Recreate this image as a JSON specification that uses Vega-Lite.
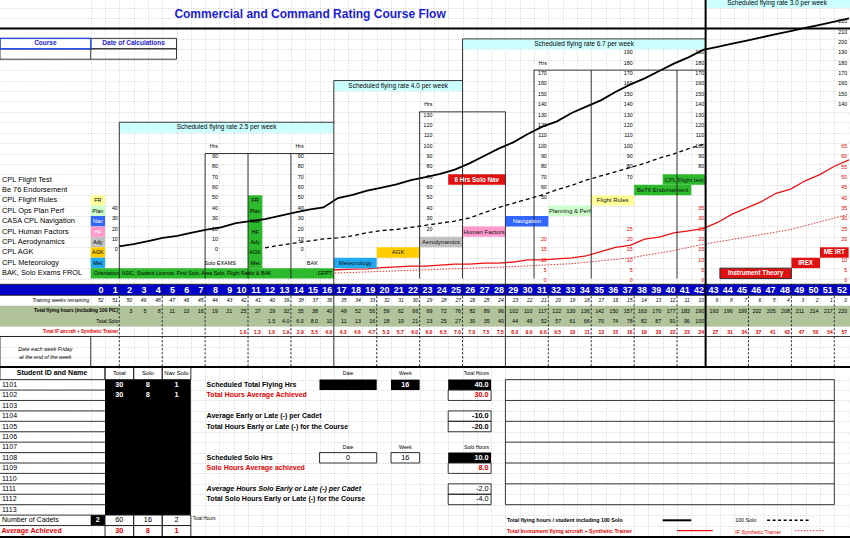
{
"$schema":"https://vega.github.io/schema/vega-lite/v6.json",
"width":850,"height":538,"padding":0,"autosize":"none","background":"white",
"config":{"view":{"stroke":null},"text":{"font":"Liberation Sans","baseline":"middle"}},
"datasets":{
"weeks":[
{"w":0,"rem":52},{"w":1,"rem":51},{"w":2,"rem":50,"fh":3},{"w":3,"rem":49,"fh":5},{"w":4,"rem":48,"fh":8},{"w":5,"rem":47,"fh":11},{"w":6,"rem":46,"fh":13},{"w":7,"rem":45,"fh":16},{"w":8,"rem":44,"fh":19},{"w":9,"rem":43,"fh":21},
{"w":10,"rem":42,"fh":25,"ifh":1.0,"it":"1.0"},{"w":11,"rem":41,"fh":27,"ifh":1.3,"it":"1.3"},
{"w":12,"rem":40,"fh":29,"solo":1.5,"st":"1.5","ifh":1.6,"it":"1.6"},{"w":13,"rem":39,"fh":32,"solo":4,"st":"4.0","ifh":1.9,"it":"1.9"},
{"w":14,"rem":38,"fh":35,"solo":6,"st":"6.0","ifh":2.9,"it":"2.9"},{"w":15,"rem":37,"fh":38,"solo":8,"st":"8.0","ifh":3.5,"it":"3.5"},
{"w":16,"rem":36,"fh":40,"solo":10,"st":"10","ifh":4.0,"it":"4.0"},{"w":17,"rem":35,"fh":49,"solo":11,"st":"11","ifh":4.3,"it":"4.3"},
{"w":18,"rem":34,"fh":52,"solo":13,"st":"13","ifh":4.6,"it":"4.6"},{"w":19,"rem":33,"fh":56,"solo":16,"st":"16","ifh":4.7,"it":"4.7"},
{"w":20,"rem":32,"fh":59,"solo":18,"st":"18","ifh":5.3,"it":"5.3"},{"w":21,"rem":31,"fh":62,"solo":19,"st":"19","ifh":5.7,"it":"5.7"},
{"w":22,"rem":30,"fh":66,"solo":21,"st":"21","ifh":6.0,"it":"6.0"},{"w":23,"rem":29,"fh":69,"solo":23,"st":"23","ifh":6.0,"it":"6.0"},
{"w":24,"rem":28,"fh":72,"solo":25,"st":"25","ifh":6.5,"it":"6.5"},{"w":25,"rem":27,"fh":76,"solo":27,"st":"27","ifh":7.0,"it":"7.0"},
{"w":26,"rem":26,"fh":82,"solo":30,"st":"30","ifh":7.0,"it":"7.0"},{"w":27,"rem":25,"fh":89,"solo":35,"st":"35","ifh":7.5,"it":"7.5"},
{"w":28,"rem":24,"fh":96,"solo":40,"st":"40","ifh":7.5,"it":"7.5"},{"w":29,"rem":23,"fh":102,"solo":44,"st":"44","ifh":8.0,"it":"8.0"},
{"w":30,"rem":22,"fh":110,"solo":48,"st":"48","ifh":9.0,"it":"9.0"},{"w":31,"rem":21,"fh":117,"solo":52,"st":"52","ifh":9.0,"it":"9.0"},
{"w":32,"rem":20,"fh":122,"solo":57,"st":"57","ifh":9.5,"it":"9.5"},{"w":33,"rem":19,"fh":130,"solo":61,"st":"61","ifh":10,"it":"10"},
{"w":34,"rem":18,"fh":136,"solo":66,"st":"66","ifh":11,"it":"11"},{"w":35,"rem":17,"fh":142,"solo":70,"st":"70","ifh":13,"it":"13"},
{"w":36,"rem":16,"fh":150,"solo":74,"st":"74","ifh":15,"it":"15"},{"w":37,"rem":15,"fh":157,"solo":78,"st":"78","ifh":16,"it":"16"},
{"w":38,"rem":14,"fh":163,"solo":82,"st":"82","ifh":19,"it":"19"},{"w":39,"rem":13,"fh":170,"solo":87,"st":"87","ifh":20,"it":"20"},
{"w":40,"rem":12,"fh":177,"solo":91,"st":"91","ifh":22,"it":"22"},{"w":41,"rem":11,"fh":183,"solo":96,"st":"96","ifh":23,"it":"23"},
{"w":42,"rem":10,"fh":190,"solo":100,"st":"100","ifh":24,"it":"24"},
{"w":43,"rem":9,"fh":193,"ifh":27,"it":"27"},{"w":44,"rem":8,"fh":196,"ifh":31,"it":"31"},{"w":45,"rem":7,"fh":199,"ifh":34,"it":"34"},
{"w":46,"rem":6,"fh":202,"ifh":37,"it":"37"},{"w":47,"rem":5,"fh":205,"ifh":41,"it":"41"},{"w":48,"rem":4,"fh":208,"ifh":43,"it":"43"},
{"w":49,"rem":3,"fh":211,"ifh":47,"it":"47"},{"w":50,"rem":2,"fh":214,"ifh":50,"it":"50"},{"w":51,"rem":1,"fh":217,"ifh":54,"it":"54"},
{"w":52,"rem":0,"fh":220,"ifh":57,"it":"57"}
],
"syn":[{"w":10,"v":0.5},{"w":13,"v":1.2},{"w":16,"v":2.5},{"w":20,"v":3.5},{"w":24,"v":4.5},{"w":29,"v":5.8},{"w":33,"v":7.2},{"w":37,"v":10},{"w":40,"v":13.5},{"w":42,"v":16.5},{"w":45,"v":20},{"w":48,"v":23.6},{"w":52,"v":31}]
},
"resolve":{"scale":{"x":"independent","y":"independent","color":"independent"}},
"layer":[
{"data":{"values":[{"c":0,"r":0}]},"mark":{"type":"point","opacity":0},
 "encoding":{
  "x":{"field":"c","type":"quantitative","scale":{"domain":[-6.843,52.598],"nice":false,"zero":false},"axis":{"values":[-0.5,0.5,1.5,2.5,3.5,4.5,5.5,6.5,7.5,8.5,9.5,10.5,11.5,12.5,13.5,14.5,15.5,16.5,17.5,18.5,19.5,20.5,21.5,22.5,23.5,24.5,25.5,26.5,27.5,28.5,29.5,30.5,31.5,32.5,33.5,34.5,35.5,36.5,37.5,38.5,39.5,40.5,41.5,42.5,43.5,44.5,45.5,46.5,47.5,48.5,49.5,50.5,51.5],"grid":true,"gridColor":"#c4c4c4","gridDash":[1,1.5],"gridWidth":0.7,"labels":false,"ticks":false,"domain":false,"title":null}},
  "y":{"field":"r","type":"quantitative","scale":{"domain":[-27.399,24.232],"nice":false,"zero":false},"axis":{"values":[-2.5,-1.5,-0.5,0.5,1.5,2.5,3.5,4.5,5.5,6.5,7.5,8.5,9.5,10.5,11.5,12.5,13.5,14.5,15.5,16.5,17.5,18.5,19.5,20.5,21.5,22.5,23.5,-4.1,-5.1,-6.1,-7.1,-8.06,-9.06,-10.03,-12.2,-13.2,-14.2,-15.2,-16.2,-17.2,-18.2,-19.2,-20.2,-21.2,-22.2,-23.2,-24.2,-25.2,-26.2],"grid":true,"gridColor":"#c4c4c4","gridDash":[1,1.5],"gridWidth":0.7,"labels":false,"ticks":false,"domain":false,"title":null}}}},
{"data":{"values":[
{"c1":1.5,"c2":16.5,"r1":11.5,"r2":12.5,"k":"cyan"},{"c1":16.5,"c2":25.5,"r1":15.5,"r2":16.5,"k":"cyan"},{"c1":25.5,"c2":42.5,"r1":19.5,"r2":20.5,"k":"cyan"},{"c1":42.5,"c2":52.598,"r1":23.5,"r2":24.232,"k":"cyan"},
{"c1":-6.843,"c2":52.598,"r1":-5.1,"r2":-7.1,"k":"band"},
{"c1":-0.5,"c2":0.5,"r1":4.5,"r2":5.5,"k":"yellow"},{"c1":-0.5,"c2":0.5,"r1":3.5,"r2":4.5,"k":"plan"},{"c1":-0.5,"c2":0.5,"r1":2.5,"r2":3.5,"k":"nav"},{"c1":-0.5,"c2":0.5,"r1":1.5,"r2":2.5,"k":"hf"},{"c1":-0.5,"c2":0.5,"r1":0.5,"r2":1.5,"k":"ady"},{"c1":-0.5,"c2":0.5,"r1":-0.5,"r2":0.5,"k":"agk"},{"c1":-0.5,"c2":0.5,"r1":-1.5,"r2":-0.5,"k":"met"},
{"c1":10.5,"c2":11.5,"r1":-1.5,"r2":5.5,"k":"green"},
{"c1":0.5,"c2":6.5,"r1":-12.2,"r2":-25.2,"k":"black"},{"c1":-0.5,"c2":0.5,"r1":-25.2,"r2":-26.2,"k":"black"},{"c1":15.5,"c2":19.5,"r1":-12.2,"r2":-13.2,"k":"black"},{"c1":20.5,"c2":22.5,"r1":-12.2,"r2":-13.2,"k":"black"},{"c1":24.5,"c2":27.5,"r1":-12.2,"r2":-13.2,"k":"black"},{"c1":24.5,"c2":27.5,"r1":-19.2,"r2":-20.2,"k":"black"}]},
 "mark":{"type":"rect"},
 "encoding":{"x":{"field":"c1","type":"quantitative","scale":{"domain":[-6.843,52.598],"nice":false,"zero":false},"axis":null},"x2":{"field":"c2"},"y":{"field":"r1","type":"quantitative","scale":{"domain":[-27.399,24.232],"nice":false,"zero":false},"axis":null},"y2":{"field":"r2"},
 "color":{"field":"k","type":"nominal","legend":null,"scale":{"domain":["cyan","band","yellow","plan","nav","hf","ady","agk","met","green","black","red"],"range":["#ccffff","#b0c39a","#ffff99","#ccffcc","#3366ff","#ff99cc","#c0c0c0","#ffcc00","#22aaee","#2db92d","#000000","#e01010"]}}}},
{"data":{"values":[{"w":1,"v":0},{"w":1,"v":10},{"w":1,"v":20},{"w":1,"v":30},{"w":1,"v":40},
{"w":8,"v":0},{"w":8,"v":10},{"w":8,"v":20},{"w":8,"v":30},{"w":8,"v":40},{"w":8,"v":50},{"w":8,"v":60},{"w":8,"v":70},{"w":8,"v":80},{"w":8,"v":90},
{"w":14,"v":0},{"w":14,"v":10},{"w":14,"v":20},{"w":14,"v":30},{"w":14,"v":40},{"w":14,"v":50},{"w":14,"v":60},{"w":14,"v":70},{"w":14,"v":80},{"w":14,"v":90},
{"w":23,"v":20},{"w":23,"v":30},{"w":23,"v":40},{"w":23,"v":50},{"w":23,"v":60},{"w":23,"v":70},{"w":23,"v":80},{"w":23,"v":90},{"w":23,"v":100},{"w":23,"v":110},{"w":23,"v":120},{"w":23,"v":130},
{"w":31,"v":50},{"w":31,"v":60},{"w":31,"v":70},{"w":31,"v":80},{"w":31,"v":90},{"w":31,"v":100},{"w":31,"v":110},{"w":31,"v":120},{"w":31,"v":130},{"w":31,"v":140},{"w":31,"v":150},{"w":31,"v":160},{"w":31,"v":170},
{"w":37,"v":70},{"w":37,"v":80},{"w":37,"v":90},{"w":37,"v":100},{"w":37,"v":110},{"w":37,"v":120},{"w":37,"v":130},{"w":37,"v":140},{"w":37,"v":150},{"w":37,"v":160},{"w":37,"v":170},{"w":37,"v":180},{"w":37,"v":190},
{"w":42,"v":80},{"w":42,"v":90},{"w":42,"v":100},{"w":42,"v":110},{"w":42,"v":120},{"w":42,"v":130},{"w":42,"v":140},{"w":42,"v":150},{"w":42,"v":160},{"w":42,"v":170},{"w":42,"v":180},{"w":42,"v":190},
{"w":52,"v":140},{"w":52,"v":150},{"w":52,"v":160},{"w":52,"v":170},{"w":52,"v":180},{"w":52,"v":190},{"w":52,"v":200},{"w":52,"v":210},{"w":52,"v":220}]},
 "mark":{"type":"text","align":"right","dx":-1.5,"fontSize":5.3,"color":"#000"},
 "encoding":{"x":{"field":"w","type":"quantitative","scale":{"domain":[-7.343,52.098],"nice":false,"zero":false},"axis":null},"y":{"field":"v","type":"quantitative","scale":{"domain":[-278.5,240.45],"nice":false,"zero":false},"axis":null},"text":{"field":"v","type":"quantitative"}}},
{"data":{"values":[{"w":8,"v":100},{"w":14,"v":100},{"w":23,"v":140},{"w":31,"v":180}]},
 "mark":{"type":"text","align":"right","dx":-1.5,"fontSize":5.3,"color":"#000"},
 "encoding":{"x":{"field":"w","type":"quantitative","scale":{"domain":[-7.343,52.098],"nice":false,"zero":false},"axis":null},"y":{"field":"v","type":"quantitative","scale":{"domain":[-278.5,240.45],"nice":false,"zero":false},"axis":null},"text":{"value":"Hrs"}}},
{"data":{"values":[{"w":31,"v":0},{"w":31,"v":5},{"w":31,"v":10},{"w":31,"v":15},{"w":31,"v":20},
{"w":37,"v":0},{"w":37,"v":5},{"w":37,"v":10},{"w":37,"v":15},{"w":37,"v":20},{"w":37,"v":25},
{"w":42,"v":0},{"w":42,"v":5},{"w":42,"v":10},{"w":42,"v":15},{"w":42,"v":20},{"w":42,"v":25},{"w":42,"v":30},{"w":42,"v":35},
{"w":52,"v":0},{"w":52,"v":5},{"w":52,"v":10},{"w":52,"v":20},{"w":52,"v":25},{"w":52,"v":30},{"w":52,"v":35},{"w":52,"v":40},{"w":52,"v":45},{"w":52,"v":50},{"w":52,"v":55},{"w":52,"v":60},{"w":52,"v":65}]},
 "mark":{"type":"text","align":"right","dx":-1.5,"fontSize":5.3,"color":"#e00000"},
 "encoding":{"x":{"field":"w","type":"quantitative","scale":{"domain":[-7.343,52.098],"nice":false,"zero":false},"axis":null},"y":{"field":"v","type":"quantitative","scale":{"domain":[-124.5,135.6],"nice":false,"zero":false},"axis":null},"text":{"field":"v","type":"quantitative"}}},
{"data":{"name":"weeks"},"transform":[{"filter":"isValid(datum.ifh)"}],
 "mark":{"type":"line","color":"#ee1111","strokeWidth":1.3},
 "encoding":{"x":{"field":"w","type":"quantitative","scale":{"domain":[-6.151,52.068],"nice":false,"zero":false},"axis":null},"y":{"field":"ifh","type":"quantitative","scale":{"domain":[-124.5,133.8],"nice":false,"zero":false},"axis":null}}},
{"data":{"name":"syn"},
 "mark":{"type":"line","color":"#ee3333","strokeWidth":1,"strokeDash":[1.5,1.5]},
 "encoding":{"x":{"field":"w","type":"quantitative","scale":{"domain":[-6.151,52.068],"nice":false,"zero":false},"axis":null},"y":{"field":"v","type":"quantitative","scale":{"domain":[-124.5,133.8],"nice":false,"zero":false},"axis":null}}},
{"data":{"values":[
{"c1":-0.5,"c2":16.5,"r1":-1.5,"r2":-2.5,"k":"green"},
{"c1":16.5,"c2":19.5,"r1":-1.5,"r2":-0.5,"k":"met"},{"c1":19.5,"c2":22.5,"r1":-0.5,"r2":0.5,"k":"agk"},{"c1":22.5,"c2":25.5,"r1":0.5,"r2":1.5,"k":"ady"},{"c1":25.5,"c2":28.5,"r1":1.5,"r2":2.5,"k":"hf"},
{"c1":24.5,"c2":28.5,"r1":6.5,"r2":7.5,"k":"red"},{"c1":28.5,"c2":31.5,"r1":2.5,"r2":3.5,"k":"nav"},{"c1":31.5,"c2":34.5,"r1":3.5,"r2":4.5,"k":"plan"},{"c1":34.5,"c2":37.5,"r1":4.5,"r2":5.5,"k":"yellow"},
{"c1":37.5,"c2":41.5,"r1":5.5,"r2":6.5,"k":"green"},{"c1":39.5,"c2":42.5,"r1":6.5,"r2":7.5,"k":"green"},
{"c1":43.5,"c2":48.5,"r1":-2.5,"r2":-1.5,"k":"red"},{"c1":48.5,"c2":50.5,"r1":-1.5,"r2":-0.5,"k":"red"},{"c1":50.5,"c2":52.5,"r1":-0.5,"r2":0.5,"k":"red"}]},
 "mark":{"type":"rect"},
 "encoding":{"x":{"field":"c1","type":"quantitative","scale":{"domain":[-6.843,52.598],"nice":false,"zero":false},"axis":null},"x2":{"field":"c2"},"y":{"field":"r1","type":"quantitative","scale":{"domain":[-27.399,24.232],"nice":false,"zero":false},"axis":null},"y2":{"field":"r2"},
 "color":{"field":"k","type":"nominal","legend":null,"scale":{"domain":["cyan","band","yellow","plan","nav","hf","ady","agk","met","green","black","red"],"range":["#ccffff","#b0c39a","#ffff99","#ccffcc","#3366ff","#ff99cc","#c0c0c0","#ffcc00","#22aaee","#2db92d","#000000","#e01010"]}}}},
{"data":{"name":"weeks"},"transform":[{"filter":"isValid(datum.fh)"}],
 "mark":{"type":"line","color":"#000","strokeWidth":1.8},
 "encoding":{"x":{"field":"w","type":"quantitative","scale":{"domain":[-6.151,52.068],"nice":false,"zero":false},"axis":null},"y":{"field":"fh","type":"quantitative","scale":{"domain":[-274.8,237.6],"nice":false,"zero":false},"axis":null}}},
{"data":{"name":"weeks"},"transform":[{"filter":"isValid(datum.solo)"}],
 "mark":{"type":"line","color":"#000","strokeWidth":1.3,"strokeDash":[4,3]},
 "encoding":{"x":{"field":"w","type":"quantitative","scale":{"domain":[-6.151,52.068],"nice":false,"zero":false},"axis":null},"y":{"field":"solo","type":"quantitative","scale":{"domain":[-274.8,237.6],"nice":false,"zero":false},"axis":null}}},
{"data":{"values":[{"c1":-6.843,"c2":52.598,"r1":-3.05,"r2":-4.1}]},
 "mark":{"type":"rect","color":"#0000c8"},
 "encoding":{"x":{"field":"c1","type":"quantitative","scale":{"domain":[-6.843,52.598],"nice":false,"zero":false},"axis":null},"x2":{"field":"c2"},"y":{"field":"r1","type":"quantitative","scale":{"domain":[-27.399,24.232],"nice":false,"zero":false},"axis":null},"y2":{"field":"r2"}}},
{"data":{"values":[
{"c1":-6.843,"c2":-0.5,"r1":19.55,"r2":20.55},
{"c1":-0.5,"c2":5.5,"r1":19.55,"r2":20.55},{"c1":-6.843,"c2":5.5,"r1":18.55,"r2":19.55},
{"c1":-6.843,"c2":0.5,"r1":-11.0,"r2":-12.2},{"c1":0.5,"c2":2.5,"r1":-11.0,"r2":-12.2},{"c1":2.5,"c2":4.5,"r1":-11.0,"r2":-12.2},{"c1":4.5,"c2":6.5,"r1":-11.0,"r2":-12.2},
{"c1":0.5,"c2":2.5,"r1":-25.2,"r2":-26.2},{"c1":2.5,"c2":4.5,"r1":-25.2,"r2":-26.2},{"c1":4.5,"c2":6.5,"r1":-25.2,"r2":-26.2},
{"c1":0.5,"c2":2.5,"r1":-26.2,"r2":-27.3},{"c1":2.5,"c2":4.5,"r1":-26.2,"r2":-27.3},{"c1":4.5,"c2":6.5,"r1":-26.2,"r2":-27.3},
{"c1":24.5,"c2":27.5,"r1":-13.2,"r2":-14.2},{"c1":24.5,"c2":27.5,"r1":-15.2,"r2":-16.2},{"c1":24.5,"c2":27.5,"r1":-16.2,"r2":-17.2},
{"c1":15.5,"c2":19.5,"r1":-19.2,"r2":-20.2},{"c1":20.5,"c2":22.5,"r1":-19.2,"r2":-20.2},
{"c1":24.5,"c2":27.5,"r1":-20.2,"r2":-21.2},{"c1":24.5,"c2":27.5,"r1":-22.2,"r2":-23.2},{"c1":24.5,"c2":27.5,"r1":-23.2,"r2":-24.2},
{"c1":28.5,"c2":51.5,"r1":-12.2,"r2":-24.2},
{"c1":43.5,"c2":48.5,"r1":-2.5,"r2":-1.5},
{"c1":-6.843,"c2":-0.5,"r1":-8.06,"r2":-11.0}]},
 "mark":{"type":"rect","fill":null,"stroke":"#222","strokeWidth":0.9},
 "encoding":{"x":{"field":"c1","type":"quantitative","scale":{"domain":[-6.843,52.598],"nice":false,"zero":false},"axis":null},"x2":{"field":"c2"},"y":{"field":"r1","type":"quantitative","scale":{"domain":[-27.399,24.232],"nice":false,"zero":false},"axis":null},"y2":{"field":"r2"}}},
{"data":{"values":[{"c1":-6.843,"c2":-0.5,"r1":19.55,"r2":20.55}]},
 "mark":{"type":"rect","fill":null,"stroke":"#2a4fe8","strokeWidth":1.4},
 "encoding":{"x":{"field":"c1","type":"quantitative","scale":{"domain":[-6.843,52.598],"nice":false,"zero":false},"axis":null},"x2":{"field":"c2"},"y":{"field":"r1","type":"quantitative","scale":{"domain":[-27.399,24.232],"nice":false,"zero":false},"axis":null},"y2":{"field":"r2"}}},
{"data":{"values":[
{"c1":1.5,"c2":1.5,"r1":12.5,"r2":-2.5},{"c1":16.5,"c2":16.5,"r1":16.5,"r2":-11.0},{"c1":25.5,"c2":25.5,"r1":20.5,"r2":-2.5},{"c1":28.5,"c2":28.5,"r1":13.5,"r2":-11.0},
{"c1":1.5,"c2":16.5,"r1":12.5,"r2":12.5},{"c1":16.5,"c2":25.5,"r1":16.5,"r2":16.5},{"c1":25.5,"c2":42.5,"r1":20.5,"r2":20.5},
{"c1":7.5,"c2":16.5,"r1":9.5,"r2":9.5},{"c1":7.5,"c2":7.5,"r1":9.5,"r2":-2.5},{"c1":10.5,"c2":10.5,"r1":9.5,"r2":-2.5},{"c1":13.5,"c2":13.5,"r1":9.5,"r2":-2.5},
{"c1":22.5,"c2":28.5,"r1":13.5,"r2":13.5},{"c1":22.5,"c2":22.5,"r1":13.5,"r2":-2.5},
{"c1":30.5,"c2":42.5,"r1":17.5,"r2":17.5},{"c1":30.5,"c2":30.5,"r1":17.5,"r2":-2.5},{"c1":34.5,"c2":34.5,"r1":17.5,"r2":-2.5},{"c1":40.5,"c2":40.5,"r1":17.5,"r2":-2.5},
{"c1":-0.5,"c2":-0.5,"r1":18.55,"r2":19.55},
{"c1":-6.843,"c2":52.598,"r1":-3.05,"r2":-3.05},{"c1":-6.843,"c2":52.598,"r1":-4.1,"r2":-4.1},{"c1":-6.843,"c2":52.598,"r1":-8.06,"r2":-8.06},
{"c1":-6.843,"c2":0.5,"r1":-13.2,"r2":-13.2},{"c1":-6.843,"c2":0.5,"r1":-14.2,"r2":-14.2},{"c1":-6.843,"c2":0.5,"r1":-15.2,"r2":-15.2},{"c1":-6.843,"c2":0.5,"r1":-16.2,"r2":-16.2},{"c1":-6.843,"c2":0.5,"r1":-17.2,"r2":-17.2},{"c1":-6.843,"c2":0.5,"r1":-18.2,"r2":-18.2},{"c1":-6.843,"c2":0.5,"r1":-19.2,"r2":-19.2},{"c1":-6.843,"c2":0.5,"r1":-20.2,"r2":-20.2},{"c1":-6.843,"c2":0.5,"r1":-21.2,"r2":-21.2},{"c1":-6.843,"c2":0.5,"r1":-22.2,"r2":-22.2},{"c1":-6.843,"c2":0.5,"r1":-23.2,"r2":-23.2},{"c1":-6.843,"c2":0.5,"r1":-24.2,"r2":-24.2},{"c1":-6.843,"c2":0.5,"r1":-25.2,"r2":-25.2},{"c1":-6.843,"c2":6.5,"r1":-26.2,"r2":-26.2},
{"c1":28.5,"c2":51.5,"r1":-14.2,"r2":-14.2},{"c1":28.5,"c2":51.5,"r1":-16.2,"r2":-16.2},{"c1":28.5,"c2":51.5,"r1":-18.2,"r2":-18.2},{"c1":28.5,"c2":51.5,"r1":-20.2,"r2":-20.2},{"c1":28.5,"c2":51.5,"r1":-22.2,"r2":-22.2}]},
 "mark":{"type":"rule","color":"#222","strokeWidth":0.9},
 "encoding":{"x":{"field":"c1","type":"quantitative","scale":{"domain":[-6.843,52.598],"nice":false,"zero":false},"axis":null},"x2":{"field":"c2"},"y":{"field":"r1","type":"quantitative","scale":{"domain":[-27.399,24.232],"nice":false,"zero":false},"axis":null},"y2":{"field":"r2"}}},
{"data":{"values":[{"c1":1.5,"c2":1.5,"r1":-3.05,"r2":-11.0},{"c1":4.5,"c2":4.5,"r1":-3.05,"r2":-11.0},{"c1":7.5,"c2":7.5,"r1":-3.05,"r2":-11.0},{"c1":10.5,"c2":10.5,"r1":-3.05,"r2":-11.0},{"c1":13.5,"c2":13.5,"r1":-3.05,"r2":-11.0},{"c1":19.5,"c2":19.5,"r1":-3.05,"r2":-11.0},{"c1":22.5,"c2":22.5,"r1":-3.05,"r2":-11.0},{"c1":25.5,"c2":25.5,"r1":-3.05,"r2":-11.0},{"c1":31.5,"c2":31.5,"r1":-3.05,"r2":-11.0},{"c1":34.5,"c2":34.5,"r1":-3.05,"r2":-11.0},{"c1":37.5,"c2":37.5,"r1":-3.05,"r2":-11.0},{"c1":40.5,"c2":40.5,"r1":-3.05,"r2":-11.0},{"c1":45.5,"c2":45.5,"r1":-3.05,"r2":-11.0},{"c1":48.5,"c2":48.5,"r1":-3.05,"r2":-11.0},{"c1":51.5,"c2":51.5,"r1":-3.05,"r2":-11.0}]},
 "mark":{"type":"rule","color":"#111","strokeWidth":0.9,"strokeDash":[2,2]},
 "encoding":{"x":{"field":"c1","type":"quantitative","scale":{"domain":[-6.843,52.598],"nice":false,"zero":false},"axis":null},"x2":{"field":"c2"},"y":{"field":"r1","type":"quantitative","scale":{"domain":[-27.399,24.232],"nice":false,"zero":false},"axis":null},"y2":{"field":"r2"}}},
{"data":{"values":[{"c1":-6.843,"c2":52.598,"r1":21.5,"r2":21.5},{"c1":42.5,"c2":42.5,"r1":24.232,"r2":-11.0},{"c1":-6.843,"c2":52.598,"r1":-11.0,"r2":-11.0},{"c1":-6.843,"c2":52.598,"r1":-27.3,"r2":-27.3},{"c1":39.5,"c2":41.5,"r1":-25.7,"r2":-25.7}]},
 "mark":{"type":"rule","color":"#000","strokeWidth":2},
 "encoding":{"x":{"field":"c1","type":"quantitative","scale":{"domain":[-6.843,52.598],"nice":false,"zero":false},"axis":null},"x2":{"field":"c2"},"y":{"field":"r1","type":"quantitative","scale":{"domain":[-27.399,24.232],"nice":false,"zero":false},"axis":null},"y2":{"field":"r2"}}},
{"data":{"values":[{"c1":46.8,"c2":49.7,"r1":-25.7,"r2":-25.7}]},
 "mark":{"type":"rule","color":"#000","strokeWidth":1.4,"strokeDash":[3,2.5]},
 "encoding":{"x":{"field":"c1","type":"quantitative","scale":{"domain":[-6.843,52.598],"nice":false,"zero":false},"axis":null},"x2":{"field":"c2"},"y":{"field":"r1","type":"quantitative","scale":{"domain":[-27.399,24.232],"nice":false,"zero":false},"axis":null},"y2":{"field":"r2"}}},
{"data":{"values":[{"c1":40.5,"c2":43,"r1":-26.7,"r2":-26.7}]},
 "mark":{"type":"rule","color":"#ee1111","strokeWidth":1.3},
 "encoding":{"x":{"field":"c1","type":"quantitative","scale":{"domain":[-6.843,52.598],"nice":false,"zero":false},"axis":null},"x2":{"field":"c2"},"y":{"field":"r1","type":"quantitative","scale":{"domain":[-27.399,24.232],"nice":false,"zero":false},"axis":null},"y2":{"field":"r2"}}},
{"data":{"values":[{"c1":48.75,"c2":50.8,"r1":-26.7,"r2":-26.7}]},
 "mark":{"type":"rule","color":"#ee3333","strokeWidth":1,"strokeDash":[1.5,1.5]},
 "encoding":{"x":{"field":"c1","type":"quantitative","scale":{"domain":[-6.843,52.598],"nice":false,"zero":false},"axis":null},"x2":{"field":"c2"},"y":{"field":"r1","type":"quantitative","scale":{"domain":[-27.399,24.232],"nice":false,"zero":false},"axis":null},"y2":{"field":"r2"}}},
{"data":{"name":"weeks"},
 "mark":{"type":"text","align":"right","dx":-1.5,"fontSize":9,"fontWeight":"bold","color":"#fff"},
 "encoding":{"x":{"field":"w","type":"quantitative","scale":{"domain":[-7.343,52.098],"nice":false,"zero":false},"axis":null},"y":{"datum":-3.56,"type":"quantitative","scale":{"domain":[-27.399,24.232],"nice":false,"zero":false},"axis":null},"text":{"field":"w","type":"quantitative"}}},
{"data":{"name":"weeks"},
 "mark":{"type":"text","align":"right","dx":-1.5,"fontSize":5,"fontStyle":"italic","color":"#000"},
 "encoding":{"x":{"field":"w","type":"quantitative","scale":{"domain":[-7.343,52.098],"nice":false,"zero":false},"axis":null},"y":{"datum":-4.6,"type":"quantitative","scale":{"domain":[-27.399,24.232],"nice":false,"zero":false},"axis":null},"text":{"field":"rem","type":"quantitative"}}},
{"data":{"name":"weeks"},"transform":[{"filter":"isValid(datum.fh)"}],
 "mark":{"type":"text","align":"right","dx":-1.5,"fontSize":5.3,"color":"#000"},
 "encoding":{"x":{"field":"w","type":"quantitative","scale":{"domain":[-7.343,52.098],"nice":false,"zero":false},"axis":null},"y":{"datum":-5.61,"type":"quantitative","scale":{"domain":[-27.399,24.232],"nice":false,"zero":false},"axis":null},"text":{"field":"fh","type":"quantitative"}}},
{"data":{"name":"weeks"},"transform":[{"filter":"isValid(datum.st)"}],
 "mark":{"type":"text","align":"right","dx":-1.5,"fontSize":5.3,"color":"#000"},
 "encoding":{"x":{"field":"w","type":"quantitative","scale":{"domain":[-7.343,52.098],"nice":false,"zero":false},"axis":null},"y":{"datum":-6.6,"type":"quantitative","scale":{"domain":[-27.399,24.232],"nice":false,"zero":false},"axis":null},"text":{"field":"st"}}},
{"data":{"name":"weeks"},"transform":[{"filter":"isValid(datum.it)"}],
 "mark":{"type":"text","align":"right","dx":-1.5,"fontSize":5,"fontWeight":"bold","color":"#e00000"},
 "encoding":{"x":{"field":"w","type":"quantitative","scale":{"domain":[-7.343,52.098],"nice":false,"zero":false},"axis":null},"y":{"datum":-7.6,"type":"quantitative","scale":{"domain":[-27.399,24.232],"nice":false,"zero":false},"axis":null},"text":{"field":"it"}}},
{"data":{"values":[{"c":14.84,"r":22.89,"t":"Commercial and Command Rating Course Flow"}]},
 "mark":{"type":"text","align":"center","fontSize":12,"fontWeight":"bold","color":"#1c1cd4"},
 "encoding":{"x":{"field":"c","type":"quantitative","scale":{"domain":[-6.843,52.598],"nice":false,"zero":false},"axis":null},"y":{"field":"r","type":"quantitative","scale":{"domain":[-27.399,24.232],"nice":false,"zero":false},"axis":null},"text":{"field":"t"}}},
{"data":{"values":[{"c":-3.67,"r":20.08,"t":"Course"},{"c":2.5,"r":20.08,"t":"Date of Calculations"}]},
 "mark":{"type":"text","align":"center","fontSize":6.5,"fontWeight":"bold","color":"#2222cc"},
 "encoding":{"x":{"field":"c","type":"quantitative","scale":{"domain":[-6.843,52.598],"nice":false,"zero":false},"axis":null},"y":{"field":"r","type":"quantitative","scale":{"domain":[-27.399,24.232],"nice":false,"zero":false},"axis":null},"text":{"field":"t"}}},
{"data":{"values":[{"c":9,"r":12,"t":"Scheduled flying rate 2.5 per week"},{"c":21,"r":16,"t":"Scheduled flying rate 4.0 per week"},{"c":34,"r":20,"t":"Scheduled flying rate 6.7 per week"},{"c":47.5,"r":23.95,"t":"Scheduled flying rate 3.0 per week"}]},
 "mark":{"type":"text","align":"center","fontSize":6.5,"color":"#000"},
 "encoding":{"x":{"field":"c","type":"quantitative","scale":{"domain":[-6.843,52.598],"nice":false,"zero":false},"axis":null},"y":{"field":"r","type":"quantitative","scale":{"domain":[-27.399,24.232],"nice":false,"zero":false},"axis":null},"text":{"field":"t"}}},
{"data":{"values":[{"c":-6.843,"r":7,"t":"CPL Flight Test"},{"c":-6.843,"r":6,"t":"Be 76 Endorsement"},{"c":-6.843,"r":5,"t":"CPL Flight Rules"},{"c":-6.843,"r":4,"t":"CPL Ops Plan Perf"},{"c":-6.843,"r":3,"t":"CASA  CPL Navigation"},{"c":-6.843,"r":2,"t":"CPL Human Factors"},{"c":-6.843,"r":1,"t":"CPL Aerodynamics"},{"c":-6.843,"r":0,"t":"CPL AGK"},{"c":-6.843,"r":-1,"t":"CPL Meteorology"},{"c":-6.843,"r":-2,"t":"BAK, Solo Exams FROL"}]},
 "mark":{"type":"text","align":"left","dx":2,"fontSize":7.4,"color":"#000"},
 "encoding":{"x":{"field":"c","type":"quantitative","scale":{"domain":[-6.843,52.598],"nice":false,"zero":false},"axis":null},"y":{"field":"r","type":"quantitative","scale":{"domain":[-27.399,24.232],"nice":false,"zero":false},"axis":null},"text":{"field":"t"}}},
{"data":{"values":[{"c":0,"r":5,"t":"FR"},{"c":0,"r":4,"t":"Plan"},{"c":0,"r":1,"t":"Ady"},{"c":0,"r":0,"t":"AGK"},{"c":0,"r":-1,"t":"Met"},{"c":11,"r":5,"t":"FR"},{"c":11,"r":4,"t":"Plan"},{"c":11,"r":3,"t":"Nav"},{"c":11,"r":2,"t":"HF"},{"c":11,"r":1,"t":"Ady"},{"c":11,"r":0,"t":"AGK"},{"c":11,"r":-1,"t":"Met"},{"c":8.55,"r":-1,"t":"Solo EXAMS"},{"c":15,"r":-1,"t":"BAK"}]},
 "mark":{"type":"text","align":"center","fontSize":5.5,"color":"#000"},
 "encoding":{"x":{"field":"c","type":"quantitative","scale":{"domain":[-6.843,52.598],"nice":false,"zero":false},"axis":null},"y":{"field":"r","type":"quantitative","scale":{"domain":[-27.399,24.232],"nice":false,"zero":false},"axis":null},"text":{"field":"t"}}},
{"data":{"values":[{"c":0,"r":3,"t":"Nav"},{"c":0,"r":2,"t":"HF"}]},
 "mark":{"type":"text","align":"center","fontSize":5.5,"color":"#fff"},
 "encoding":{"x":{"field":"c","type":"quantitative","scale":{"domain":[-6.843,52.598],"nice":false,"zero":false},"axis":null},"y":{"field":"r","type":"quantitative","scale":{"domain":[-27.399,24.232],"nice":false,"zero":false},"axis":null},"text":{"field":"t"}}},
{"data":{"values":[{"c":18,"r":-1,"t":"Meteorology"},{"c":21,"r":0,"t":"AGK"},{"c":24,"r":1,"t":"Aerodynamics"},{"c":27,"r":2,"t":"Human Factors"},{"c":33,"r":4,"t":"Planning & Perf"},{"c":36,"r":5,"t":"Flight Rules"},{"c":39.5,"r":6,"t":"Be76 Endorsement"},{"c":41,"r":7,"t":"CPL Flight test"}]},
 "mark":{"type":"text","align":"center","fontSize":6,"color":"#111"},
 "encoding":{"x":{"field":"c","type":"quantitative","scale":{"domain":[-6.843,52.598],"nice":false,"zero":false},"axis":null},"y":{"field":"r","type":"quantitative","scale":{"domain":[-27.399,24.232],"nice":false,"zero":false},"axis":null},"text":{"field":"t"}}},
{"data":{"values":[{"c":30,"r":3,"t":"Navigation"}]},
 "mark":{"type":"text","align":"center","fontSize":6,"color":"#fff"},
 "encoding":{"x":{"field":"c","type":"quantitative","scale":{"domain":[-6.843,52.598],"nice":false,"zero":false},"axis":null},"y":{"field":"r","type":"quantitative","scale":{"domain":[-27.399,24.232],"nice":false,"zero":false},"axis":null},"text":{"field":"t"}}},
{"data":{"values":[{"c":26.5,"r":7,"t":"6 Hrs Solo Nav"},{"c":46,"r":-2,"t":"Instrument Theory"},{"c":49.5,"r":-1,"t":"IREX"},{"c":51.5,"r":0,"t":"ME IRT"}]},
 "mark":{"type":"text","align":"center","fontSize":6.3,"fontWeight":"bold","color":"#fff"},
 "encoding":{"x":{"field":"c","type":"quantitative","scale":{"domain":[-6.843,52.598],"nice":false,"zero":false},"axis":null},"y":{"field":"r","type":"quantitative","scale":{"domain":[-27.399,24.232],"nice":false,"zero":false},"axis":null},"text":{"field":"t"}}},
{"data":{"values":[{"c":-0.5,"r":-2,"t":"Orientation, ASIC, Student Licence, First Solo, Area Solo, Flight Radio & BAK"}]},
 "mark":{"type":"text","align":"left","dx":3,"fontSize":5.2,"color":"#000"},
 "encoding":{"x":{"field":"c","type":"quantitative","scale":{"domain":[-6.843,52.598],"nice":false,"zero":false},"axis":null},"y":{"field":"r","type":"quantitative","scale":{"domain":[-27.399,24.232],"nice":false,"zero":false},"axis":null},"text":{"field":"t"}}},
{"data":{"values":[{"c":16.5,"r":-2,"t":"GFPT"}]},
 "mark":{"type":"text","align":"right","dx":-2,"fontSize":5.2,"color":"#000"},
 "encoding":{"x":{"field":"c","type":"quantitative","scale":{"domain":[-6.843,52.598],"nice":false,"zero":false},"axis":null},"y":{"field":"r","type":"quantitative","scale":{"domain":[-27.399,24.232],"nice":false,"zero":false},"axis":null},"text":{"field":"t"}}},
{"data":{"values":[{"c":-0.5,"r":-4.6,"t":"Training weeks remaining"}]},
 "mark":{"type":"text","align":"right","dx":-1.5,"fontSize":5,"fontStyle":"italic","color":"#000"},
 "encoding":{"x":{"field":"c","type":"quantitative","scale":{"domain":[-6.843,52.598],"nice":false,"zero":false},"axis":null},"y":{"field":"r","type":"quantitative","scale":{"domain":[-27.399,24.232],"nice":false,"zero":false},"axis":null},"text":{"field":"t"}}},
{"data":{"values":[{"c":1.5,"r":-5.61,"t":"Total flying hours (including 100 PIC)"}]},
 "mark":{"type":"text","align":"right","dx":-1,"fontSize":4.8,"fontWeight":"bold","color":"#000"},
 "encoding":{"x":{"field":"c","type":"quantitative","scale":{"domain":[-6.843,52.598],"nice":false,"zero":false},"axis":null},"y":{"field":"r","type":"quantitative","scale":{"domain":[-27.399,24.232],"nice":false,"zero":false},"axis":null},"text":{"field":"t"}}},
{"data":{"values":[{"c":1.5,"r":-6.6,"t":"Total Solo"}]},
 "mark":{"type":"text","align":"right","dx":-1,"fontSize":5,"color":"#000"},
 "encoding":{"x":{"field":"c","type":"quantitative","scale":{"domain":[-6.843,52.598],"nice":false,"zero":false},"axis":null},"y":{"field":"r","type":"quantitative","scale":{"domain":[-27.399,24.232],"nice":false,"zero":false},"axis":null},"text":{"field":"t"}}},
{"data":{"values":[{"c":1.5,"r":-7.6,"t":"Total IF aircraft + Synthetic Trainer"}]},
 "mark":{"type":"text","align":"right","dx":-1,"fontSize":4.6,"fontWeight":"bold","color":"#e00000"},
 "encoding":{"x":{"field":"c","type":"quantitative","scale":{"domain":[-6.843,52.598],"nice":false,"zero":false},"axis":null},"y":{"field":"r","type":"quantitative","scale":{"domain":[-27.399,24.232],"nice":false,"zero":false},"axis":null},"text":{"field":"t"}}},
{"data":{"values":[{"c":-3.67,"r":-9.26,"t":"Date each week Friday"},{"c":-3.67,"r":-10.03,"t":"at the end of the week"}]},
 "mark":{"type":"text","align":"center","fontSize":5.3,"fontStyle":"italic","color":"#000"},
 "encoding":{"x":{"field":"c","type":"quantitative","scale":{"domain":[-6.843,52.598],"nice":false,"zero":false},"axis":null},"y":{"field":"r","type":"quantitative","scale":{"domain":[-27.399,24.232],"nice":false,"zero":false},"axis":null},"text":{"field":"t"}}},
{"data":{"values":[{"c":-3.21,"r":-11.6,"t":"Student ID and Name"}]},
 "mark":{"type":"text","align":"center","fontSize":7,"fontWeight":"bold","color":"#000"},
 "encoding":{"x":{"field":"c","type":"quantitative","scale":{"domain":[-6.843,52.598],"nice":false,"zero":false},"axis":null},"y":{"field":"r","type":"quantitative","scale":{"domain":[-27.399,24.232],"nice":false,"zero":false},"axis":null},"text":{"field":"t"}}},
{"data":{"values":[{"c":1.5,"r":-11.6,"t":"Total"},{"c":3.5,"r":-11.6,"t":"Solo"},{"c":5.5,"r":-11.6,"t":"Nav Solo"}]},
 "mark":{"type":"text","align":"center","fontSize":6,"color":"#000"},
 "encoding":{"x":{"field":"c","type":"quantitative","scale":{"domain":[-6.843,52.598],"nice":false,"zero":false},"axis":null},"y":{"field":"r","type":"quantitative","scale":{"domain":[-27.399,24.232],"nice":false,"zero":false},"axis":null},"text":{"field":"t"}}},
{"data":{"values":[{"c":-6.843,"r":-12.7,"t":"1101"},{"c":-6.843,"r":-13.7,"t":"1102"},{"c":-6.843,"r":-14.7,"t":"1103"},{"c":-6.843,"r":-15.7,"t":"1104"},{"c":-6.843,"r":-16.7,"t":"1105"},{"c":-6.843,"r":-17.7,"t":"1106"},{"c":-6.843,"r":-18.7,"t":"1107"},{"c":-6.843,"r":-19.7,"t":"1108"},{"c":-6.843,"r":-20.7,"t":"1109"},{"c":-6.843,"r":-21.7,"t":"1110"},{"c":-6.843,"r":-22.7,"t":"1111"},{"c":-6.843,"r":-23.7,"t":"1112"},{"c":-6.843,"r":-24.7,"t":"1113"},{"c":-6.843,"r":-25.7,"t":"Number of Cadets"}]},
 "mark":{"type":"text","align":"left","dx":2,"fontSize":7,"color":"#000"},
 "encoding":{"x":{"field":"c","type":"quantitative","scale":{"domain":[-6.843,52.598],"nice":false,"zero":false},"axis":null},"y":{"field":"r","type":"quantitative","scale":{"domain":[-27.399,24.232],"nice":false,"zero":false},"axis":null},"text":{"field":"t"}}},
{"data":{"values":[{"c":1.5,"r":-12.7,"t":"30"},{"c":3.5,"r":-12.7,"t":"8"},{"c":5.5,"r":-12.7,"t":"1"},{"c":1.5,"r":-13.7,"t":"30"},{"c":3.5,"r":-13.7,"t":"8"},{"c":5.5,"r":-13.7,"t":"1"},{"c":0,"r":-25.7,"t":"2"},{"c":21.5,"r":-12.7,"t":"16"}]},
 "mark":{"type":"text","align":"center","fontSize":7.3,"fontWeight":"bold","color":"#fff"},
 "encoding":{"x":{"field":"c","type":"quantitative","scale":{"domain":[-6.843,52.598],"nice":false,"zero":false},"axis":null},"y":{"field":"r","type":"quantitative","scale":{"domain":[-27.399,24.232],"nice":false,"zero":false},"axis":null},"text":{"field":"t"}}},
{"data":{"values":[{"c":1.5,"r":-25.7,"t":"60"},{"c":3.5,"r":-25.7,"t":"16"},{"c":5.5,"r":-25.7,"t":"2"},{"c":17.5,"r":-19.7,"t":"0"},{"c":21.5,"r":-19.7,"t":"16"}]},
 "mark":{"type":"text","align":"center","fontSize":7.3,"color":"#000"},
 "encoding":{"x":{"field":"c","type":"quantitative","scale":{"domain":[-6.843,52.598],"nice":false,"zero":false},"axis":null},"y":{"field":"r","type":"quantitative","scale":{"domain":[-27.399,24.232],"nice":false,"zero":false},"axis":null},"text":{"field":"t"}}},
{"data":{"values":[{"c":1.5,"r":-26.75,"t":"30"},{"c":3.5,"r":-26.75,"t":"8"},{"c":5.5,"r":-26.75,"t":"1"}]},
 "mark":{"type":"text","align":"center","fontSize":7.3,"fontWeight":"bold","color":"#e00000"},
 "encoding":{"x":{"field":"c","type":"quantitative","scale":{"domain":[-6.843,52.598],"nice":false,"zero":false},"axis":null},"y":{"field":"r","type":"quantitative","scale":{"domain":[-27.399,24.232],"nice":false,"zero":false},"axis":null},"text":{"field":"t"}}},
{"data":{"values":[{"c":-6.843,"r":-26.75,"t":"Average Achieved"},{"c":7.5,"r":-13.7,"t":"Total Hours Average Achieved"},{"c":7.5,"r":-20.7,"t":"Solo Hours Average achieved"}]},
 "mark":{"type":"text","align":"left","dx":1.5,"fontSize":7,"fontWeight":"bold","color":"#e00000"},
 "encoding":{"x":{"field":"c","type":"quantitative","scale":{"domain":[-6.843,52.598],"nice":false,"zero":false},"axis":null},"y":{"field":"r","type":"quantitative","scale":{"domain":[-27.399,24.232],"nice":false,"zero":false},"axis":null},"text":{"field":"t"}}},
{"data":{"values":[{"c":7.5,"r":-12.7,"t":"Scheduled Total Flying Hrs"},{"c":7.5,"r":-15.7,"t":"Average Early or Late (-) per Cadet"},{"c":7.5,"r":-16.7,"t":"Total Hours Early or Late (-) for the Course"},{"c":7.5,"r":-19.7,"t":"Scheduled Solo Hrs"},{"c":7.5,"r":-23.7,"t":"Total Solo Hours Early or Late (-) for the Course"}]},
 "mark":{"type":"text","align":"left","dx":1.5,"fontSize":7,"fontWeight":"bold","color":"#000"},
 "encoding":{"x":{"field":"c","type":"quantitative","scale":{"domain":[-6.843,52.598],"nice":false,"zero":false},"axis":null},"y":{"field":"r","type":"quantitative","scale":{"domain":[-27.399,24.232],"nice":false,"zero":false},"axis":null},"text":{"field":"t"}}},
{"data":{"values":[{"c":7.5,"r":-22.7,"t":"Average Hours Solo Early or Late (-) per Cadet"}]},
 "mark":{"type":"text","align":"left","dx":1.5,"fontSize":7,"fontWeight":"bold","fontStyle":"italic","color":"#000"},
 "encoding":{"x":{"field":"c","type":"quantitative","scale":{"domain":[-6.843,52.598],"nice":false,"zero":false},"axis":null},"y":{"field":"r","type":"quantitative","scale":{"domain":[-27.399,24.232],"nice":false,"zero":false},"axis":null},"text":{"field":"t"}}},
{"data":{"values":[{"c":17.5,"r":-11.6,"t":"Date"},{"c":21.5,"r":-11.6,"t":"Week"},{"c":17.5,"r":-18.65,"t":"Date"},{"c":21.5,"r":-18.65,"t":"Week"}]},
 "mark":{"type":"text","align":"center","fontSize":5,"color":"#000"},
 "encoding":{"x":{"field":"c","type":"quantitative","scale":{"domain":[-6.843,52.598],"nice":false,"zero":false},"axis":null},"y":{"field":"r","type":"quantitative","scale":{"domain":[-27.399,24.232],"nice":false,"zero":false},"axis":null},"text":{"field":"t"}}},
{"data":{"values":[{"c":27.5,"r":-11.6,"t":"Total Hours"},{"c":27.5,"r":-18.65,"t":"Solo Hours"}]},
 "mark":{"type":"text","align":"right","dx":-2,"fontSize":5,"color":"#000"},
 "encoding":{"x":{"field":"c","type":"quantitative","scale":{"domain":[-6.843,52.598],"nice":false,"zero":false},"axis":null},"y":{"field":"r","type":"quantitative","scale":{"domain":[-27.399,24.232],"nice":false,"zero":false},"axis":null},"text":{"field":"t"}}},
{"data":{"values":[{"c":6.5,"r":-25.6,"t":"Total Hours"}]},
 "mark":{"type":"text","align":"left","dx":2,"fontSize":4.5,"color":"#000"},
 "encoding":{"x":{"field":"c","type":"quantitative","scale":{"domain":[-6.843,52.598],"nice":false,"zero":false},"axis":null},"y":{"field":"r","type":"quantitative","scale":{"domain":[-27.399,24.232],"nice":false,"zero":false},"axis":null},"text":{"field":"t"}}},
{"data":{"values":[{"c":27.5,"r":-12.7,"t":"40.0"},{"c":27.5,"r":-19.7,"t":"10.0"}]},
 "mark":{"type":"text","align":"right","dx":-2.5,"fontSize":7.3,"fontWeight":"bold","color":"#fff"},
 "encoding":{"x":{"field":"c","type":"quantitative","scale":{"domain":[-6.843,52.598],"nice":false,"zero":false},"axis":null},"y":{"field":"r","type":"quantitative","scale":{"domain":[-27.399,24.232],"nice":false,"zero":false},"axis":null},"text":{"field":"t"}}},
{"data":{"values":[{"c":27.5,"r":-13.7,"t":"30.0"},{"c":27.5,"r":-20.7,"t":"8.0"}]},
 "mark":{"type":"text","align":"right","dx":-2.5,"fontSize":7.3,"fontWeight":"bold","color":"#e00000"},
 "encoding":{"x":{"field":"c","type":"quantitative","scale":{"domain":[-6.843,52.598],"nice":false,"zero":false},"axis":null},"y":{"field":"r","type":"quantitative","scale":{"domain":[-27.399,24.232],"nice":false,"zero":false},"axis":null},"text":{"field":"t"}}},
{"data":{"values":[{"c":27.5,"r":-15.7,"t":"-10.0"},{"c":27.5,"r":-16.7,"t":"-20.0"}]},
 "mark":{"type":"text","align":"right","dx":-2.5,"fontSize":7.3,"fontWeight":"bold","color":"#000"},
 "encoding":{"x":{"field":"c","type":"quantitative","scale":{"domain":[-6.843,52.598],"nice":false,"zero":false},"axis":null},"y":{"field":"r","type":"quantitative","scale":{"domain":[-27.399,24.232],"nice":false,"zero":false},"axis":null},"text":{"field":"t"}}},
{"data":{"values":[{"c":27.5,"r":-22.7,"t":"-2.0"},{"c":27.5,"r":-23.7,"t":"-4.0"}]},
 "mark":{"type":"text","align":"right","dx":-2.5,"fontSize":7.3,"color":"#000"},
 "encoding":{"x":{"field":"c","type":"quantitative","scale":{"domain":[-6.843,52.598],"nice":false,"zero":false},"axis":null},"y":{"field":"r","type":"quantitative","scale":{"domain":[-27.399,24.232],"nice":false,"zero":false},"axis":null},"text":{"field":"t"}}},
{"data":{"values":[{"c":28.5,"r":-25.7,"t":"Total flying hours / student including 100 Solo"}]},
 "mark":{"type":"text","align":"left","dx":1.5,"fontSize":5.3,"fontWeight":"bold","color":"#000"},
 "encoding":{"x":{"field":"c","type":"quantitative","scale":{"domain":[-6.843,52.598],"nice":false,"zero":false},"axis":null},"y":{"field":"r","type":"quantitative","scale":{"domain":[-27.399,24.232],"nice":false,"zero":false},"axis":null},"text":{"field":"t"}}},
{"data":{"values":[{"c":44.5,"r":-25.7,"t":"100 Solo"}]},
 "mark":{"type":"text","align":"left","dx":1,"fontSize":5.3,"color":"#000"},
 "encoding":{"x":{"field":"c","type":"quantitative","scale":{"domain":[-6.843,52.598],"nice":false,"zero":false},"axis":null},"y":{"field":"r","type":"quantitative","scale":{"domain":[-27.399,24.232],"nice":false,"zero":false},"axis":null},"text":{"field":"t"}}},
{"data":{"values":[{"c":28.5,"r":-26.7,"t":"Total Instrument flying aircraft + Synthetic Trainer"}]},
 "mark":{"type":"text","align":"left","dx":1.5,"fontSize":5.3,"fontWeight":"bold","color":"#e00000"},
 "encoding":{"x":{"field":"c","type":"quantitative","scale":{"domain":[-6.843,52.598],"nice":false,"zero":false},"axis":null},"y":{"field":"r","type":"quantitative","scale":{"domain":[-27.399,24.232],"nice":false,"zero":false},"axis":null},"text":{"field":"t"}}},
{"data":{"values":[{"c":44.5,"r":-26.8,"t":"IF Synthetic Trainer"}]},
 "mark":{"type":"text","align":"left","dx":1,"fontSize":5.3,"color":"#e00000"},
 "encoding":{"x":{"field":"c","type":"quantitative","scale":{"domain":[-6.843,52.598],"nice":false,"zero":false},"axis":null},"y":{"field":"r","type":"quantitative","scale":{"domain":[-27.399,24.232],"nice":false,"zero":false},"axis":null},"text":{"field":"t"}}}
]
}
